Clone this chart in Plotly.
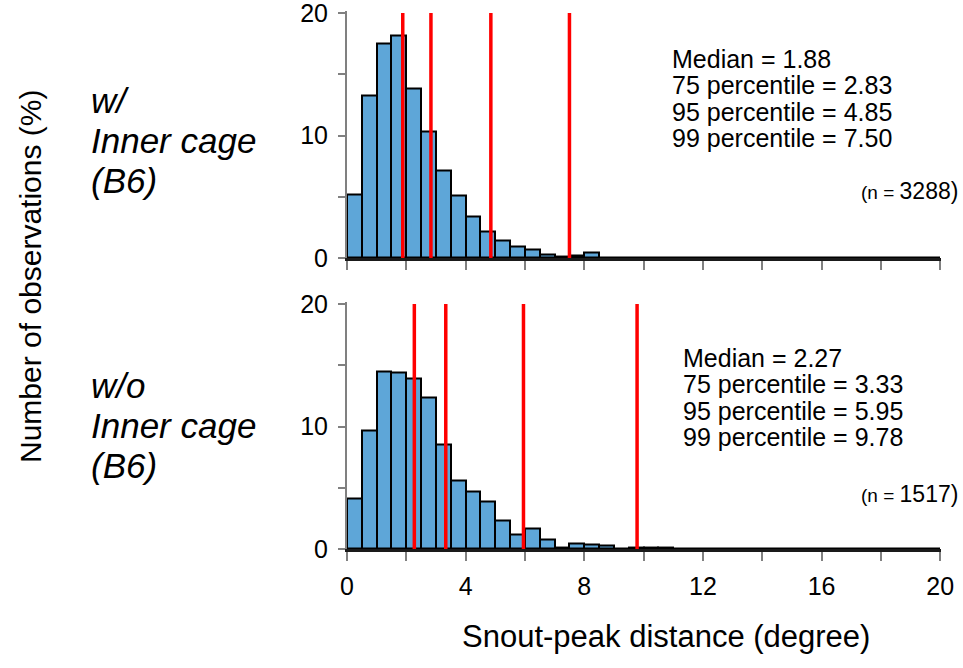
import plotly.graph_objects as go

W, H = 963, 668

# bin edges every 0.5 degree from 0 to 20
bin_centers = [0.25 + 0.5 * i for i in range(40)]

top_pct = [5.2, 13.3, 17.5, 18.2, 13.8, 10.3, 7.1, 5.1, 3.4, 2.2,
           1.45, 0.9, 0.68, 0.27, 0.14, 0.2, 0.44, 0.06, 0.05, 0.04,
           0.04, 0.04, 0.03, 0.0, 0.05, 0.0, 0.0, 0.04, 0.04, 0.04,
           0.0, 0.0, 0.0, 0.05, 0.0, 0.0, 0.0, 0.0, 0.0, 0.0]
bot_pct = [4.1, 9.7, 14.45, 14.4, 13.95, 12.4, 8.5, 5.6, 4.7, 3.85,
           2.3, 1.2, 1.63, 0.8, 0.14, 0.46, 0.38, 0.25, 0.07, 0.14,
           0.1, 0.1, 0.0, 0.0, 0.0, 0.0, 0.0, 0.07, 0.07, 0.07,
           0.0, 0.07, 0.0, 0.07, 0.0, 0.0, 0.0, 0.0, 0.0, 0.0]

top_stats = [1.88, 2.83, 4.85, 7.50]
bot_stats = [2.27, 3.33, 5.95, 9.78]
stat_names = ["Median", "75 percentile", "95 percentile", "99 percentile"]
top_n = 3288
bot_n = 1517

x_ticks = list(range(0, 21, 2))
x_ticktext = [str(v) if v % 4 == 0 else "" for v in x_ticks]
y_ticks = [0, 5, 10, 15, 20]
y_ticktext = ["0", "", "10", "", "20"]

FONT = "Arial, 'Liberation Sans', sans-serif"
BAR_COLOR = "#5ea6d8"

def px_x(p):
    return p / W

def px_y(p):
    return 1 - p / H

fig = go.Figure()
fig.add_trace(go.Bar(x=bin_centers, y=top_pct, width=0.5, xaxis="x", yaxis="y",
                     marker=dict(color=BAR_COLOR, line=dict(color="black", width=2)),
                     showlegend=False))
fig.add_trace(go.Bar(x=bin_centers, y=bot_pct, width=0.5, xaxis="x2", yaxis="y2",
                     marker=dict(color=BAR_COLOR, line=dict(color="black", width=2)),
                     showlegend=False))

shapes = []
for v in top_stats:
    shapes.append(dict(type="line", xref="x", yref="y", x0=v, x1=v, y0=0, y1=20,
                       line=dict(color="#ff0000", width=3.5)))
for v in bot_stats:
    shapes.append(dict(type="line", xref="x2", yref="y2", x0=v, x1=v, y0=0, y1=20,
                       line=dict(color="#ff0000", width=3.5)))

YMAX = 20.2
PPU = 12.25  # pixels per percent
xdom = [px_x(347), px_x(940.5)]
top_dom = [px_y(258), px_y(258 - YMAX * PPU)]
bot_dom = [px_y(549), px_y(549 - YMAX * PPU)]

def xax(show_labels, anchor):
    return dict(domain=xdom, range=[0, 20.01], anchor=anchor, tickmode="array",
                tickvals=x_ticks, ticktext=x_ticktext, showticklabels=show_labels,
                showline=True, linecolor="#1a1a1a", linewidth=3, ticks="outside",
                ticklen=9, tickwidth=2, tickcolor="#808080", showgrid=False,
                zeroline=False, tickfont=dict(family=FONT, size=25, color="black"),
                ticklabelstandoff=4, automargin=False, layer="below traces",
                ticklabeloverflow="allow")

def yax(dom, anchor):
    return dict(domain=dom, range=[0, YMAX], anchor=anchor, tickmode="array",
                tickvals=y_ticks, ticktext=y_ticktext, showline=True,
                linecolor="#808080", linewidth=2, ticks="outside", ticklen=7,
                tickwidth=2, tickcolor="#808080", showgrid=False, zeroline=False,
                tickfont=dict(family=FONT, size=25, color="black"),
                ticklabelstandoff=5, automargin=False, ticklabeloverflow="allow")

annotations = []

def block(x, y, lines, size, line_px, xanchor="left", italic=False, yanchor="top"):
    base = line_px / 1.3
    parts = []
    for s in lines:
        inner = ("<i>%s</i>" % s) if italic else s
        parts.append("<span style='font-size:%dpx'>%s</span>" % (size, inner))
    annotations.append(dict(x=px_x(x), y=px_y(y), xref="paper", yref="paper",
                            text="<br>".join(parts), showarrow=False, align="left",
                            xanchor=xanchor, yanchor=yanchor,
                            font=dict(family=FONT, size=base, color="black")))

# stats text
block(670, 58 - 15, ["%s = %.2f" % (nm, v) for nm, v in zip(stat_names, top_stats)], 25, 26.3)
block(681, 357 - 15, ["%s = %.2f" % (nm, v) for nm, v in zip(stat_names, bot_stats)], 25, 26.3)

def ntext(y, n):
    annotations.append(dict(x=px_x(960), y=px_y(y), xref="paper", yref="paper",
                            text="<span style='font-size:19px'>(n = </span>%d)" % n,
                            showarrow=False, xanchor="right", yanchor="middle",
                            font=dict(family=FONT, size=23, color="black")))
ntext(191, top_n)
ntext(494, bot_n)

# group labels
block(89, 101 - 22, ["w/", "Inner cage", "(B6)"], 35, 40, italic=True)
block(89, 386 - 22, ["w/o", "Inner cage", "(B6)"], 35, 40, italic=True)

# axis titles
annotations.append(dict(x=px_x(30), y=px_y(277), xref="paper", yref="paper",
                        text="Number of observations (%)", showarrow=False, textangle=-90,
                        xanchor="center", yanchor="middle",
                        font=dict(family=FONT, size=30, color="black")))
annotations.append(dict(x=px_x(666), y=px_y(636), xref="paper", yref="paper",
                        text="Snout-peak distance (degree)", showarrow=False,
                        xanchor="center", yanchor="middle",
                        font=dict(family=FONT, size=31, color="black")))

fig.update_layout(
    width=W, height=H, margin=dict(l=0, r=0, t=0, b=0, autoexpand=False),
    paper_bgcolor="white", plot_bgcolor="white",
    bargap=0, showlegend=False,
    xaxis=xax(False, "y"), yaxis=yax(top_dom, "x"),
    xaxis2=xax(True, "y2"), yaxis2=yax(bot_dom, "x2"),
    shapes=shapes, annotations=annotations,
)

fig.write_html("out.html")
